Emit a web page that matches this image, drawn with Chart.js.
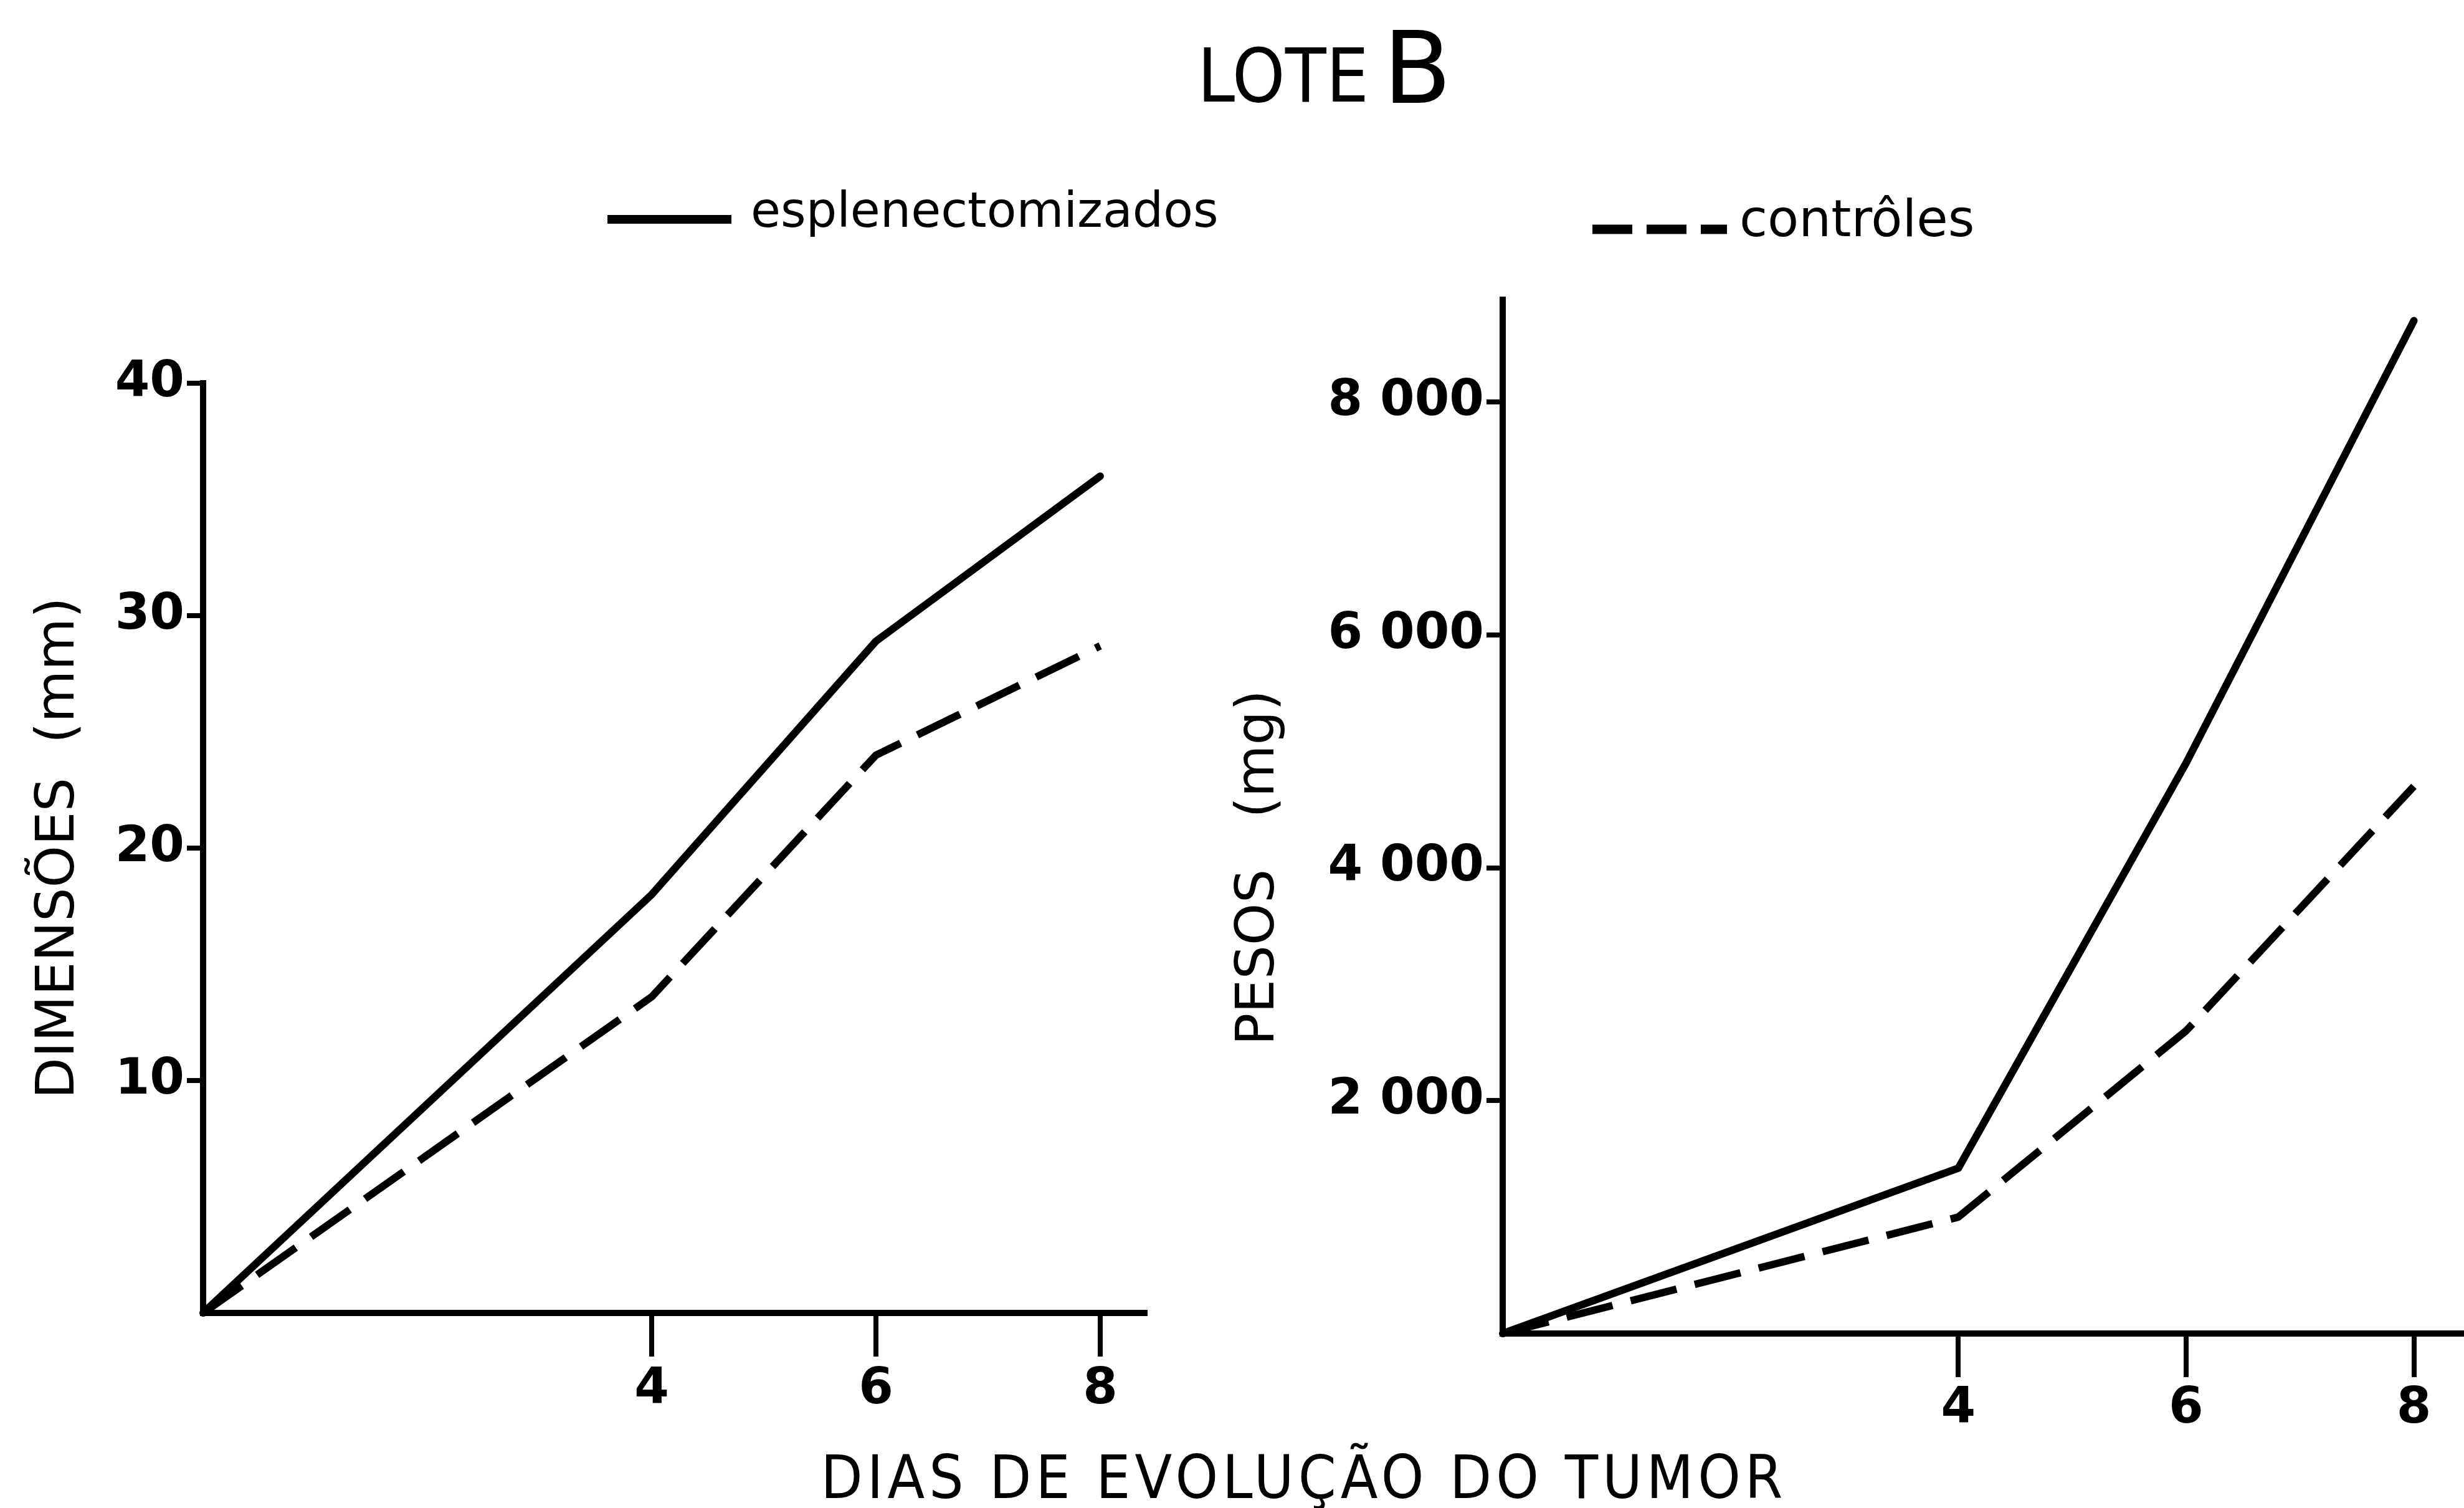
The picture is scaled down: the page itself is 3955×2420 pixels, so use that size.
<!DOCTYPE html>
<html><head><meta charset="utf-8">
<script src="https://cdn.jsdelivr.net/npm/chart.js@4"></script>
<style>
html,body{margin:0;padding:0;background:#fff;}
#page{position:relative;width:3955px;height:2420px;overflow:hidden;background:#fff;font-family:"DejaVu Sans";color:#000;}
.t{position:absolute;white-space:nowrap;line-height:1;color:#000;}
canvas{position:absolute;left:0;top:0;}
</style></head><body>
<div id="page">
  <div class="t" style="left:1922px;top:62px;font-size:120px;font-family:'DejaVu Sans Condensed'">LOTE</div>
  <div class="t" style="left:2220px;top:30px;font-size:160px;font-family:'DejaVu Sans'">B</div>
  <svg style="position:absolute;left:0;top:0" width="3955" height="500">
    <line x1="975" y1="352" x2="1174" y2="352" stroke="#000" stroke-width="14"/>
    <line x1="2556" y1="368" x2="2772" y2="368" stroke="#000" stroke-width="15" stroke-dasharray="64 23"/>
  </svg>
  <div class="t" style="left:1205px;top:298px;font-size:78px;">esplenectomizados</div>
  <div class="t" style="left:2792px;top:310px;font-size:82px;">contrôles</div>
  <div class="t" style="left:2093px;top:2322px;font-size:97px;font-family:'DejaVu Sans Condensed';letter-spacing:7px;transform:translateX(-50%);">DIAS DE EVOLUÇÃO DO TUMOR</div>
  <div style="position:absolute;left:0;top:0;width:1900px;height:2420px"><canvas id="cL" width="1900" height="2420" style="width:1900px;height:2420px"></canvas></div>
  <div style="position:absolute;left:1950px;top:0;width:2005px;height:2420px"><canvas id="cR" width="2005" height="2420" style="width:2005px;height:2420px"></canvas></div>
</div>
<script>
// ---- data ----
const days = [0, 4, 6, 8];
const dimEsplen = [0, 18.0, 28.9, 36.0];
const dimControl = [0, 13.6, 24.0, 28.7];
const pesoEsplen = [0, 1420, 4900, 8700];
const pesoControl = [0, 1000, 2600, 4700];
const xTickVals = [4, 6, 8];
const xTickLabels = ['4', '6', '8'];
const dimTickVals = [10, 20, 30, 40];
const dimTickLabels = ['10', '20', '30', '40'];
const pesoTickVals = [2000, 4000, 6000, 8000];
const pesoTickLabels = ['2 000', '4 000', '6 000', '8 000'];
const seriesNames = ['esplenectomizados', 'contrôles'];

const tickFont = {family: 'DejaVu Sans', size: 80, weight: 'bold'};

function makeChart(id, esp, ctl, c) {
  const pts = arr => days.map((d, i) => ({x: d, y: arr[i]}));
  return new Chart(document.getElementById(id), {
    type: 'line',
    data: {datasets: [
      {label: seriesNames[0], data: pts(esp), borderColor: '#000', borderWidth: 12, pointRadius: 0, tension: 0, fill: false, clip: false, borderJoinStyle: 'round', borderCapStyle: 'round'},
      {label: seriesNames[1], data: pts(ctl), borderColor: '#000', borderWidth: 12, pointRadius: 0, tension: 0, fill: false, clip: false, borderDash: [76, 30], borderJoinStyle: 'round'}
    ]},
    options: {
      responsive: false, animation: false, devicePixelRatio: 1,
      layout: {padding: c.pad},
      plugins: {legend: {display: false}, tooltip: {enabled: false}},
      scales: {
        x: {type: 'linear', min: 0, max: c.xMax,
          afterBuildTicks: s => { s.ticks = xTickVals.map(v => ({value: v})); },
          afterFit: s => { s.height = c.xH; },
          grid: {drawOnChartArea: false, drawTicks: true, tickLength: 70, lineWidth: 8, color: '#000'},
          border: {display: true, color: '#000', width: 10},
          ticks: {font: tickFont, color: '#000', padding: c.xPad, maxRotation: 0, autoSkip: false,
            callback: v => xTickLabels[xTickVals.indexOf(v)]}
        },
        y: {type: 'linear', min: 0, max: c.yMax,
          afterBuildTicks: s => { s.ticks = c.yVals.map(v => ({value: v})); },
          afterFit: s => { s.width = c.yW; },
          grid: {drawOnChartArea: false, drawTicks: true, tickLength: 26, lineWidth: 8, color: '#000'},
          border: {display: true, color: '#000', width: 10},
          ticks: {font: tickFont, color: '#000', padding: 4, autoSkip: false,
            callback: v => c.yLabels[c.yVals.indexOf(v)]},
          title: {display: true, text: c.yTitle, color: '#000', font: {family: 'DejaVu Sans', size: c.tSize}, padding: {top: c.tPad, bottom: 0}}
        }
      }
    }
  });
}

makeChart('cL', dimEsplen, dimControl, {
  pad: {top: 615, right: 62, bottom: 0, left: 0},
  xMax: 8.4, xH: 313, xPad: 6, yMax: 40, yW: 326,
  yVals: dimTickVals, yLabels: dimTickLabels,
  yTitle: 'DIMENSÕES\u00A0\u00A0(mm)', tPad: 44, tSize: 86
});
makeChart('cR', pesoEsplen, pesoControl, {
  pad: {top: 481, right: 0, bottom: 0, left: 0},
  xMax: 8.44, xH: 280, xPad: 4, yMax: 8880, yW: 462,
  yVals: pesoTickVals, yLabels: pesoTickLabels,
  yTitle: 'PESOS\u00A0\u00A0\u00A0(mg)' + '\u00A0\u00A0\u00A0\u00A0\u00A0\u00A0', tPad: 20, tSize: 86
});
</script>
</body></html>
